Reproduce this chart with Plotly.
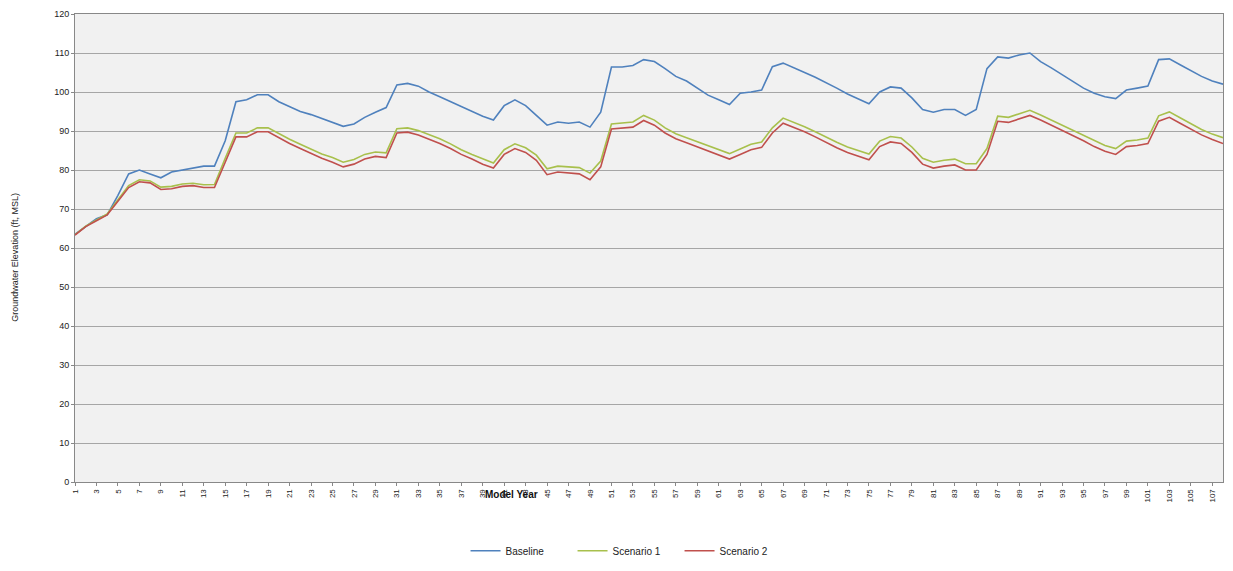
import plotly.graph_objects as go

# Stress-period index (category axis)
periods = list(range(1, 109))
tick_labels = [str(p) for p in periods if p % 2 == 1]

baseline = [
    63.5, 65.5, 67.5, 68.5, 73.5, 79.0, 80.0, 79.0, 78.0, 79.5,
    80.0, 80.5, 81.0, 81.0, 87.5, 97.5, 98.0, 99.3, 99.3, 97.5,
    96.3, 95.0, 94.2, 93.2, 92.2, 91.2, 91.8, 93.5, 94.8, 96.0,
    101.8, 102.2, 101.5, 100.0, 98.8, 97.5, 96.2, 95.0, 93.8, 92.8,
    96.5, 98.0, 96.5, 94.0, 91.5, 92.3, 92.0, 92.3, 91.0, 94.8,
    106.4, 106.4, 106.8, 108.3, 107.8, 106.0, 104.0, 102.8, 101.0, 99.2,
    98.0, 96.8, 99.7, 100.0, 100.5, 106.5, 107.4, 106.3, 105.0, 103.8,
    102.5, 101.0, 99.5, 98.2, 97.0, 100.0, 101.3, 101.0, 98.5, 95.5,
    94.8, 95.5, 95.5, 94.0, 95.5, 106.0, 109.0, 108.7, 109.5, 110.0,
    107.8, 106.2, 104.5, 102.8, 101.0, 99.7, 98.8, 98.3, 100.5, 101.0,
    101.5, 108.3, 108.5, 107.0, 105.5, 104.0, 102.8, 102.0,
]

scenario1 = [
    63.4, 65.6, 67.2, 68.7, 72.4, 76.0, 77.5, 77.2, 75.6, 75.8,
    76.4, 76.6, 76.2, 76.3, 83.0, 89.5, 89.5, 90.8, 90.8, 89.3,
    87.9, 86.6, 85.3, 84.1, 83.2, 82.0, 82.7, 84.0, 84.6, 84.4,
    90.6, 90.8, 90.1, 89.1, 88.0, 86.7, 85.2, 84.0, 82.8, 81.8,
    85.2, 86.7, 85.7, 83.8, 80.3, 81.0, 80.8, 80.6, 79.2, 82.3,
    91.8, 92.0, 92.3, 94.0, 92.8, 90.8, 89.3, 88.3, 87.3, 86.3,
    85.3, 84.2, 85.4, 86.6, 87.2, 90.8, 93.3, 92.3, 91.1, 89.8,
    88.4, 87.1, 85.9, 84.9, 84.1, 87.4, 88.6, 88.2, 85.9, 83.0,
    82.0, 82.5, 82.8, 81.6, 81.6, 85.5, 93.8, 93.5, 94.3, 95.3,
    94.1, 92.8, 91.4, 90.2, 88.9, 87.5, 86.3, 85.5, 87.4, 87.7,
    88.2, 93.9, 94.9, 93.4, 91.9, 90.4, 89.2, 88.3,
]

scenario2 = [
    63.3, 65.5, 67.0, 68.5, 72.0, 75.5, 77.0, 76.7, 75.0, 75.2,
    75.8, 76.0, 75.5, 75.5, 82.0, 88.5, 88.5, 89.8, 89.8, 88.2,
    86.8, 85.5, 84.2, 83.0, 82.0, 80.8, 81.5, 82.8, 83.5, 83.2,
    89.5, 89.7, 89.0, 88.0, 86.8, 85.5, 84.0, 82.8, 81.5, 80.5,
    84.0, 85.5, 84.5, 82.5, 78.8, 79.5, 79.3, 79.0, 77.5, 80.8,
    90.5, 90.7, 91.0, 92.7, 91.5, 89.5, 88.0, 87.0, 86.0, 85.0,
    84.0, 82.8, 84.0, 85.2, 85.8, 89.5, 92.0, 91.0, 89.8, 88.5,
    87.0, 85.7, 84.5, 83.5, 82.6, 86.0, 87.2, 86.8, 84.5, 81.5,
    80.5, 81.0, 81.3, 80.0, 80.0, 84.0, 92.5, 92.2, 93.0, 94.0,
    92.8, 91.5, 90.0, 88.8, 87.5, 86.0, 84.8, 84.0, 86.0, 86.3,
    86.8, 92.5, 93.5, 92.0, 90.5, 89.0, 87.8, 86.8,
]

series_names = ["Baseline", "Scenario 1", "Scenario 2"]
series_colors = ["#4f81bd", "#a8c04c", "#c0504d"]
y_ticks = list(range(0, 121, 10))

fig = go.Figure()
for name, vals, col in zip(series_names, [baseline, scenario1, scenario2], series_colors):
    fig.add_trace(go.Scatter(
        x=periods, y=vals, mode="lines", name=name,
        line=dict(color=col, width=1.6),
    ))

fig.update_layout(
    width=1225, height=563,
    margin=dict(l=67, r=10, t=6, b=89),
    paper_bgcolor="white",
    plot_bgcolor="#f1f1f1",
    font=dict(family="Liberation Sans, Arial, sans-serif", size=9, color="#222"),
    showlegend=True,
    legend=dict(
        orientation="h", x=0.48, xanchor="center", y=-0.147, yanchor="middle",
        font=dict(size=10, color="#222"), bgcolor="rgba(0,0,0,0)",
        itemwidth=30, entrywidth=62, entrywidthmode="pixels", tracegroupgap=0,
    ),
    annotations=[
        dict(
            text="<b>Model Year</b>", xref="paper", yref="paper",
            x=0.38, y=-0.026, xanchor="center", yanchor="middle",
            showarrow=False, font=dict(size=10, color="#111"),
        ),
        dict(
            text="Groundwater Elevation (ft, MSL)", xref="paper", yref="paper",
            x=-0.052, y=0.48, xanchor="center", yanchor="middle", textangle=-90,
            showarrow=False, font=dict(size=9, color="#222"),
        ),
    ],
)

fig.update_xaxes(
    range=[1, 108], automargin=False,
    tickmode="array", tickvals=[p for p in periods if p % 2 == 1], ticktext=tick_labels,
    tickangle=-90, tickfont=dict(size=8, color="#222"),
    showgrid=False, zeroline=False,
    showline=True, linecolor="#888", linewidth=1, mirror=True,
    ticks="outside", ticklen=3, tickcolor="#888",
)
fig.update_yaxes(
    range=[0, 120], automargin=False, tickmode="array", tickvals=y_ticks,
    tickfont=dict(size=9, color="#222"),
    showgrid=True, gridcolor="#a6a6a6", gridwidth=1,
    zeroline=False, showline=True, linecolor="#888", linewidth=1, mirror=True,
    ticks="outside", ticklen=3, tickcolor="#888",
)

fig.write_html("out.html")
